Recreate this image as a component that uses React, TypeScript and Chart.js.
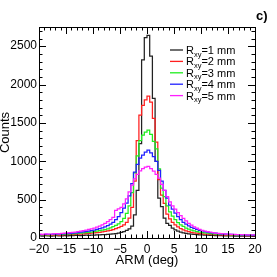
import React, { useEffect, useRef } from 'react';
import { Chart, registerables } from 'chart.js';

Chart.register(...registerables);

const BIN_START = -20;
const BIN_WIDTH = 0.5;
const X_MIN = -20;
const X_MAX = 20;
const Y_MIN = 0;
const Y_MAX = 2750;
const X_TICKS = [-20, -15, -10, -5, 0, 5, 10, 15, 20];
const Y_TICKS = [0, 500, 1000, 1500, 2000, 2500];
const X_MINOR = 1;
const Y_MINOR = 100;

const SERIES_LABELS = ['1', '2', '3', '4', '5'];
const SERIES_COLORS = ['#222222', '#ff1f1f', '#1fee1f', '#2020ff', '#ff1fff'];

// counts per 0.5 deg bin, from -20 to +20 deg
const R1: number[] = [
  28, 26, 30, 27, 25, 28, 30, 27, 29, 31, 29, 32, 30, 33, 34, 32, 35, 36, 34, 38,
  37, 40, 41, 43, 44, 47, 50, 53, 58, 64, 72, 82, 98, 118, 155, 300, 620, 1230, 2320, 2610,
  2640, 2370, 1820, 1000, 520, 410, 260, 190, 165, 130, 105, 88, 76, 66, 60, 55, 50, 47, 44, 42,
  40, 38, 36, 35, 33, 32, 31, 30, 29, 28, 27, 27, 26, 25, 25, 24, 24, 23, 23, 22,
];
const R2: number[] = [
  38, 35, 40, 37, 36, 39, 41, 38, 42, 44, 43, 46, 45, 48, 50, 52, 55, 57, 60, 62,
  66, 70, 74, 80, 86, 92, 100, 110, 122, 135, 150, 170, 205, 260, 400, 740, 1270, 1600, 1730, 1800,
  1850, 1770, 1560, 1250, 760, 560, 450, 310, 250, 205, 172, 145, 122, 105, 92, 82, 74, 68, 63, 58,
  55, 52, 49, 47, 45, 43, 42, 40, 39, 37, 36, 35, 34, 33, 33, 32, 31, 31, 30, 30,
];
const R3: number[] = [
  42, 40, 44, 41, 43, 45, 44, 47, 46, 49, 51, 53, 55, 58, 60, 63, 67, 70, 74, 78,
  83, 88, 95, 102, 110, 120, 133, 148, 165, 185, 215, 255, 320, 420, 590, 850, 1070, 1270, 1340, 1380,
  1405, 1350, 1260, 1160, 900, 650, 540, 420, 340, 285, 240, 200, 172, 150, 130, 115, 102, 92, 84, 77,
  71, 66, 62, 58, 55, 52, 50, 48, 46, 44, 43, 41, 40, 39, 38, 37, 36, 36, 35, 35,
];
const R4: number[] = [
  45, 43, 47, 46, 48, 50, 49, 52, 54, 56, 58, 61, 64, 67, 71, 75, 80, 85, 90, 97,
  104, 112, 121, 132, 146, 162, 182, 205, 240, 280, 330, 390, 455, 550, 710, 860, 960, 1040, 1080, 1120,
  1145, 1110, 1060, 1000, 880, 740, 620, 520, 430, 375, 325, 280, 240, 205, 180, 158, 140, 125, 112, 101,
  92, 84, 77, 71, 66, 62, 58, 55, 52, 50, 48, 46, 44, 43, 42, 41, 40, 39, 38, 38,
];
const R5: number[] = [
  50, 48, 55, 52, 50, 54, 57, 55, 60, 62, 66, 70, 74, 78, 84, 90, 96, 104, 112, 120,
  130, 142, 156, 172, 190, 212, 240, 270, 360, 380, 400, 445, 510, 600, 690, 770, 830, 875, 905, 925,
  935, 905, 870, 830, 780, 700, 620, 540, 470, 420, 375, 330, 290, 255, 222, 192, 168, 146, 128, 113,
  100, 90, 82, 75, 70, 65, 61, 58, 55, 52, 50, 48, 46, 45, 44, 43, 42, 41, 40, 40,
];
const SERIES = [R1, R2, R3, R4, R5];

const FONT = '"Liberation Sans", Arial, sans-serif';

function toSteps(values: number[]) {
  const pts = values.map((v, i) => ({ x: BIN_START + i * BIN_WIDTH, y: v }));
  pts.push({ x: BIN_START + values.length * BIN_WIDTH, y: values[values.length - 1] });
  return pts;
}

const framePlugin = {
  id: 'frameTicks',
  afterDatasetsDraw(chart: any) {
    const { ctx, chartArea: a, scales } = chart;
    const xs = scales.x;
    const ys = scales.y;
    ctx.save();
    ctx.strokeStyle = '#000';
    ctx.lineWidth = 1;
    ctx.beginPath();
    for (let v = X_MIN; v <= X_MAX + 1e-9; v += X_MINOR) {
      const px = Math.round(xs.getPixelForValue(v)) + 0.5;
      const major = X_TICKS.includes(v);
      const len = major ? 7 : 3.5;
      ctx.moveTo(px, a.bottom);
      ctx.lineTo(px, a.bottom - len);
      ctx.moveTo(px, a.top);
      ctx.lineTo(px, a.top + len);
    }
    for (let v = Y_MIN; v <= Y_MAX + 1e-9; v += Y_MINOR) {
      const py = Math.round(ys.getPixelForValue(v)) + 0.5;
      const major = Y_TICKS.includes(v);
      const len = major ? 7 : 3.5;
      ctx.moveTo(a.left, py);
      ctx.lineTo(a.left + len, py);
      ctx.moveTo(a.right, py);
      ctx.lineTo(a.right - len, py);
    }
    ctx.stroke();
    ctx.strokeRect(Math.round(a.left) + 0.5, Math.round(a.top) + 0.5, Math.round(a.right - a.left), Math.round(a.bottom - a.top));

    // legend
    const lx0 = 170;
    const lx1 = 183;
    const tx = 186;
    for (let i = 0; i < SERIES_LABELS.length; i++) {
      const y = 50 + i * 11.4;
      ctx.strokeStyle = SERIES_COLORS[i];
      ctx.lineWidth = 1.3;
      ctx.beginPath();
      ctx.moveTo(lx0, y);
      ctx.lineTo(lx1, y);
      ctx.stroke();
      ctx.fillStyle = '#000';
      ctx.textBaseline = 'alphabetic';
      ctx.textAlign = 'left';
      ctx.font = `11px ${FONT}`;
      const base = y + 4;
      ctx.fillText('R', tx, base);
      let x = tx + ctx.measureText('R').width;
      ctx.font = `7.5px ${FONT}`;
      ctx.fillText('xy', x, base + 2.5);
      x += ctx.measureText('xy').width;
      ctx.font = `11px ${FONT}`;
      ctx.fillText(`=${SERIES_LABELS[i]} mm`, x, base);
    }

    ctx.font = `bold 13px ${FONT}`;
    ctx.fillStyle = '#000';
    ctx.textAlign = 'left';
    ctx.fillText('c)', 256, 20);
    ctx.restore();
  },
};

export default function App() {
  const ref = useRef<HTMLCanvasElement | null>(null);

  useEffect(() => {
    document.body.style.margin = '0';
    const canvas = ref.current;
    if (!canvas) return;
    const datasets = SERIES.map((vals, i) => ({
      label: `R_xy=${SERIES_LABELS[i]} mm`,
      data: toSteps(vals),
      borderColor: SERIES_COLORS[i],
      backgroundColor: SERIES_COLORS[i],
      borderWidth: 1.25,
      pointRadius: 0,
      stepped: 'before' as const,
      fill: false,
      order: SERIES.length - i,
    }));
    const chart = new Chart(canvas, {
      type: 'line',
      data: { datasets },
      options: {
        animation: false,
        responsive: false,
        maintainAspectRatio: false,
        layout: { padding: { left: 0, right: 22, top: 27, bottom: 0 } },
        plugins: {
          legend: { display: false },
          tooltip: { enabled: false },
        },
        scales: {
          x: {
            type: 'linear',
            min: X_MIN,
            max: X_MAX,
            afterBuildTicks: (s: any) => {
              s.ticks = X_TICKS.map((v) => ({ value: v }));
            },
            afterFit: (s: any) => {
              s.height = 39;
            },
            grid: { display: false, drawTicks: false },
            border: { display: false },
            ticks: {
              padding: 4,
              maxRotation: 0,
              autoSkip: false,
              color: '#000',
              font: { family: FONT, size: 12 },
              callback: (v: any) => String(v).replace('-', '\u2212'),
            },
            title: {
              display: true,
              text: 'ARM (deg)',
              color: '#000',
              font: { family: FONT, size: 13, lineHeight: 1 },
              padding: { top: 0, bottom: 10 },
            },
          },
          y: {
            type: 'linear',
            min: Y_MIN,
            max: Y_MAX,
            afterBuildTicks: (s: any) => {
              s.ticks = Y_TICKS.map((v) => ({ value: v }));
            },
            afterFit: (s: any) => {
              s.width = 39;
            },
            grid: { display: false, drawTicks: false },
            border: { display: false },
            ticks: {
              padding: 2,
              autoSkip: false,
              color: '#000',
              font: { family: FONT, size: 12 },
              callback: (v: any) => String(v),
            },
            title: {
              display: true,
              text: 'Counts',
              color: '#000',
              font: { family: FONT, size: 13, lineHeight: 1 },
              padding: { top: -1, bottom: 0 },
            },
          },
        },
      },
      plugins: [framePlugin],
    });
    return () => chart.destroy();
  }, []);

  return <canvas ref={ref} width={277} height={277} style={{ display: 'block', width: 277, height: 277 }} />;
}
